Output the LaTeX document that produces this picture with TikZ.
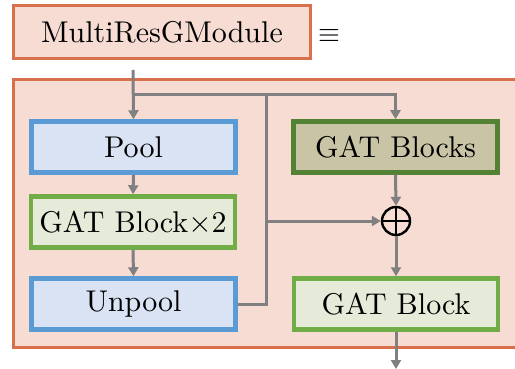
\documentclass[tikz,border=0pt]{standalone}
\usepackage{fontspec}
\setmainfont{lmroman10-regular}[Extension=.otf]
\newfontfamily\symbolfont{Latin Modern Math}
\usetikzlibrary{arrows.meta}
\definecolor{frameor}{HTML}{D96F4B}
\definecolor{framefill}{HTML}{F6DCD2}
\definecolor{bluebd}{HTML}{5B9BD5}
\definecolor{bluefill}{HTML}{DAE3F3}
\definecolor{greenbd}{HTML}{70AD47}
\definecolor{greenfill}{HTML}{E6EAD9}
\definecolor{dgreenbd}{HTML}{548235}
\definecolor{khaki}{HTML}{C8C4A5}
\definecolor{wire}{HTML}{808080}
\tikzset{
  txt/.style={font=\rmfamily\fontsize{30}{36}\selectfont},
  blk/.style={txt, draw, line width=4.5pt, minimum width=204pt, minimum height=51pt, inner sep=0pt},
  poolbox/.style={blk, draw=bluebd, fill=bluefill},
  gatbox/.style={blk, draw=greenbd, fill=greenfill},
  gatsbox/.style={blk, draw=dgreenbd, fill=khaki},
  wireline/.style={draw=wire, line width=3pt},
  arr/.style={wireline, -{Triangle[width=10pt,length=9pt]}},
}
\begin{document}
\begin{tikzpicture}[x=1pt,y=-1pt]
\useasboundingbox (0,0) rectangle (515,369);
\clip (0,0) rectangle (515,369);

% module title and its definition frame
\node[txt, draw=frameor, fill=framefill, line width=3pt, minimum width=297pt, minimum height=53pt, inner sep=0pt] (title) at (162,32.5) {MultiResGModule};
\node[font=\symbolfont\fontsize{28}{30}\selectfont, inner sep=0pt] (eq) at (329,36) {≡};
\draw[draw=frameor, fill=framefill, line width=3pt] (13.5,79.5) rectangle (540,347);

% blocks
\node[poolbox] (pool) at (133.5,147) {Pool};
\node[gatbox] (gat2) at (133,222) {GAT Block×2};
\node[poolbox] (unpool) at (133.5,304) {Unpool};
\node[gatsbox] (gats) at (395.5,147) {GAT Blocks};
\node[gatbox] (gat) at (396,304) {GAT Block};
\node[circle, draw=black, line width=2.4pt, minimum size=28pt, inner sep=0pt,
  path picture={\draw[black, line width=2.4pt]
    (path picture bounding box.north) -- (path picture bounding box.south)
    (path picture bounding box.west) -- (path picture bounding box.east);}] (plus) at (396,221) {};

% wiring
\coordinate (in) at (133,70);
\coordinate (br) at (133,95);
\coordinate (mid) at (266,95);
\coordinate (out) at (396,369);
\draw[arr] (in) -- (pool.north);
\draw[wireline] (br) -- (mid);
\draw[arr] (mid) -| (gats.north);
\draw[arr] (pool.south) -- (gat2.north);
\draw[arr] (gat2.south) -- (unpool.north);
\draw[wireline] (unpool.east) -| (mid);
\draw[arr] (mid |- plus) -- (plus.west);
\draw[arr] (gats.south) -- (plus.north);
\draw[arr] (plus.south) -- (gat.north);
\draw[arr] (gat.south) -- (out);
\end{tikzpicture}
\end{document}
